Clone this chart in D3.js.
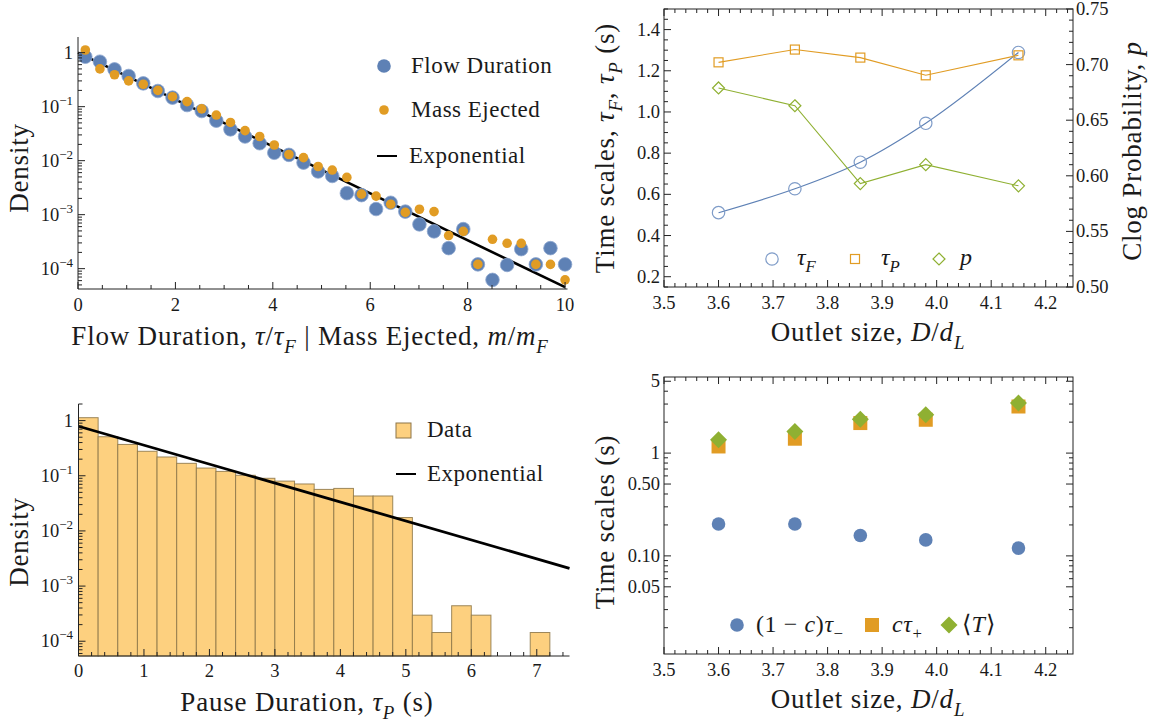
<!DOCTYPE html>
<html><head><meta charset="utf-8">
<script src="https://cdn.jsdelivr.net/npm/d3@7"></script>
<style>
body{margin:0;background:#fff}
svg{display:block}
text{font-family:"Liberation Serif",serif;fill:#1a1a1a}
</style>
</head><body>
<svg id="c" width="1165" height="726"></svg>
<script>
// ---------------- DATA ----------------
// Panel A: flow duration / mass ejected densities
const flowX = [0.15,0.45,0.75,1.04,1.34,1.64,1.94,2.24,2.54,2.84,3.13,3.43,3.73,4.03,4.33,4.63,4.93,5.22,5.52,5.82,6.12,6.42,6.72,7.01,7.31,7.61,7.91,8.21,8.51,8.81,9.10,9.40,9.70,10.0];
const flowDensity = [0.84,0.68,0.49,0.37,0.27,0.195,0.147,0.107,0.083,0.055,0.038,0.028,0.021,0.014,0.0128,0.0092,0.0063,0.0052,0.0025,0.0023,0.00127,0.00166,0.00114,0.00066,0.00049,0.00024,0.00054,0.00012,0.000062,0.000117,0.00023,0.00012,0.00024,0.00012];
const massDensity = [1.12,0.50,0.39,0.30,0.26,0.20,0.153,0.124,0.091,0.070,0.051,0.036,0.028,0.0195,0.013,0.0114,0.0078,0.0067,0.0049,0.0024,0.0022,0.00156,0.0011,0.00126,0.00114,0.00041,0.00049,0.00012,0.00035,0.000295,0.000295,0.00012,0.00012,0.000062];
const expFlowX = [0,10];
const expFlowY = [1,4.54e-5];
// Panel C: pause duration histogram
const pauseBinLo = [0,0.3,0.6,0.9,1.2,1.5,1.8,2.1,2.4,2.7,3.0,3.3,3.6,3.9,4.2,4.5,4.8,5.1,5.4,5.7,6.0,6.9];
const pauseBinWidth = 0.3;
const pauseDensity = [1.13,0.51,0.37,0.278,0.219,0.168,0.138,0.12,0.102,0.09,0.08,0.071,0.0566,0.059,0.043,0.043,0.0175,0.000297,0.000144,0.00044,0.000297,0.000144];
const expPauseX = [0,7.5];
const expPauseY = [0.79,0.0021];
// Panels B & D: versus outlet size
const outlet = [3.6,3.74,3.86,3.98,4.15];
const tauF = [0.511,0.627,0.756,0.945,1.289];
const tauP = [1.241,1.303,1.264,1.178,1.275];
const clogP = [0.679,0.663,0.593,0.610,0.591];
const tauMinus = [0.204,0.204,0.158,0.143,0.119];
const cTauPlus = [1.16,1.38,1.96,2.11,2.84];
const meanT = [1.35,1.62,2.14,2.36,3.07];
// tick labels
const flowXTicks = [0,2,4,6,8,10];
const decadeTicks = [1,0.1,0.01,0.001,0.0001];
const pauseXTicks = [0,1,2,3,4,5,6,7];
const outletTicks = [3.5,3.6,3.7,3.8,3.9,4.0,4.1,4.2];
const tauTicks = [0.2,0.4,0.6,0.8,1.0,1.2,1.4];
const clogTicks = [0.50,0.55,0.60,0.65,0.70,0.75];
const tsTicks = [5,1,0.5,0.1,0.05];
const tsTickLabels = ["5","1","0.50","0.10","0.05"];

// ---------------- STYLE ----------------
const BLUE="#5e81b5", ORANGE="#e19c24", GREEN="#8fb032";
const TICKFS=18.5, LEGFS=23, TITLEFS=27, AXC="#222";
const TITLELS=0.8, LEGLS=0.5;
const svg = d3.select("#c");

function rich(sel, parts, fs){
  let shift=0;
  parts.forEach(p=>{
    const ts=sel.append("tspan").text(p.t);
    let target=0,size=fs;
    if(p.sub){target=fs*0.28;size=fs*0.7;}
    if(p.sup){target=-fs*0.42;size=fs*0.7;}
    if(target!==shift){ts.attr("dy",target-shift);shift=target;}
    if(p.i) ts.attr("font-style","italic");
    if(size!==fs) ts.attr("font-size",size);
  });
  return sel;
}
function textAt(g,x,y,parts,fs,anchor,rot,ls){
  const t=g.append("text").attr("font-size",fs).attr("text-anchor",anchor||"start");
  if(ls) t.attr("letter-spacing",ls);
  if(rot){t.attr("transform",`translate(${x},${y}) rotate(${rot})`);}
  else t.attr("x",x).attr("y",y);
  return rich(t,parts,fs);
}
function line(g,x1,y1,x2,y2,w,c){
  g.append("line").attr("x1",x1).attr("y1",y1).attr("x2",x2).attr("y2",y2)
   .attr("stroke",c||AXC).attr("stroke-width",w||1);
}
function logMinor(lo,hi){
  const out=[];
  for(let k=-6;k<=2;k++)for(let m=1;m<=9;m++){const v=m*Math.pow(10,k);if(v>=lo&&v<=hi)out.push(v);}
  return out;
}
function decLabel(g,x,y,v){
  const t=g.append("text").attr("x",x).attr("y",y).attr("font-size",TICKFS).attr("text-anchor","end");
  if(v===1){t.text("1");return;}
  const k=Math.round(Math.log10(v));
  t.append("tspan").text("10");
  t.append("tspan").attr("dy",-8).attr("font-size",13).text("\u2212"+(-k));
}
function diamond(s){return `M0,${-s}L${s},0L0,${s}L${-s},0Z`;}

// ================= PANEL A =================
{
  const g=svg.append("g");
  const x=d3.scaleLinear([0,10.05],[78,567.5]);
  const y=d3.scaleLog([4.2e-5,1.95],[289,37]);
  g.append("path").datum(expFlowX.map((d,i)=>[d,expFlowY[i]]))
    .attr("d",d3.line().x(d=>x(d[0])).y(d=>y(d[1])))
    .attr("fill","none").attr("stroke","#000").attr("stroke-width",2.6);
  g.selectAll(".fb").data(flowX).join("circle").attr("cx",d=>x(d))
    .attr("cy",(d,i)=>y(flowDensity[i])).attr("r",6.8).attr("fill",BLUE)
    .attr("stroke","#8ea7cf").attr("stroke-width",0.8);
  g.selectAll(".mo").data(flowX).join("circle").attr("cx",d=>x(d))
    .attr("cy",(d,i)=>y(massDensity[i])).attr("r",4.8).attr("fill",ORANGE);
  line(g,78,37,78,289); line(g,78,289,567.5,289);
  logMinor(4.2e-5,1.95).forEach(v=>{
    const isMaj=decadeTicks.some(t=>Math.abs(t-v)<v*1e-6);
    line(g,78,y(v),78+(isMaj?7:4),y(v));
  });
  decadeTicks.forEach(v=>decLabel(g,73,y(v)+6,v));
  d3.range(0,10.01,0.5).forEach(v=>{
    const isMaj=flowXTicks.includes(v);
    line(g,x(v),289,x(v),289-(isMaj?7:4));
  });
  flowXTicks.forEach(v=>g.append("text").attr("x",x(v)).attr("y",311).attr("font-size",TICKFS)
    .attr("text-anchor","middle").text(v));
  textAt(g,310,345,[{t:"Flow Duration, "},{t:"τ",i:1},{t:"/"},{t:"τ",i:1},{t:"F",i:1,sub:1},
    {t:" | Mass Ejected, "},{t:"m",i:1},{t:"/"},{t:"m",i:1},{t:"F",i:1,sub:1}],TITLEFS,"middle",0,TITLELS);
  textAt(g,28,168,[{t:"Density"}],TITLEFS,"middle",-90,TITLELS);
  g.append("circle").attr("cx",384).attr("cy",66).attr("r",6.8).attr("fill",BLUE);
  textAt(g,411,73,[{t:"Flow Duration"}],LEGFS,"start",0,LEGLS);
  g.append("circle").attr("cx",384).attr("cy",110).attr("r",4.8).attr("fill",ORANGE);
  textAt(g,411,117,[{t:"Mass Ejected"}],LEGFS,"start",0,LEGLS);
  line(g,377,156,397,156,2,"#000");
  textAt(g,409,163,[{t:"Exponential"}],LEGFS,"start",0,LEGLS);
}

// ================= PANEL B =================
{
  const g=svg.append("g");
  const L=664,R=1073,T=9,B=287;
  const x=d3.scaleLinear([3.5,4.25],[L,R]);
  const y=d3.scaleLinear([0.15,1.5],[B,T]);
  const y2=d3.scaleLinear([0.5,0.75],[B,T]);
  d3.range(3.5,4.251,0.02).forEach(v=>{
    const isMaj=outletTicks.some(t=>Math.abs(t-v)<1e-6);
    const l=isMaj?7:4;
    line(g,x(v),B,x(v),B-l); line(g,x(v),T,x(v),T+l);
  });
  d3.range(0.15,1.501,0.05).forEach(v=>{
    const isMaj=tauTicks.some(t=>Math.abs(t-v)<1e-6);
    line(g,L,y(v),L+(isMaj?7:4),y(v));
  });
  d3.range(0.5,0.7501,0.01).forEach(v=>{
    const isMaj=clogTicks.some(t=>Math.abs(t-v)<1e-6);
    line(g,R,y2(v),R-(isMaj?7:4),y2(v));
  });
  g.append("rect").attr("x",L).attr("y",T).attr("width",R-L).attr("height",B-T)
    .attr("fill","none").attr("stroke",AXC).attr("stroke-width",1);
  outletTicks.forEach(v=>g.append("text").attr("x",x(v)).attr("y",B+22).attr("font-size",TICKFS)
    .attr("text-anchor","middle").text(v.toFixed(1)));
  tauTicks.forEach(v=>g.append("text").attr("x",L-4).attr("y",y(v)+6).attr("font-size",TICKFS)
    .attr("text-anchor","end").text(v.toFixed(1)));
  clogTicks.forEach(v=>g.append("text").attr("x",R+3).attr("y",y2(v)+6).attr("font-size",TICKFS)
    .attr("text-anchor","start").text(v.toFixed(2)));
  const pts=(ys,sc)=>outlet.map((d,i)=>[x(d),sc(ys[i])]);
  g.append("path").attr("d",d3.line().curve(d3.curveMonotoneX)(pts(tauF,y))).attr("fill","none").attr("stroke",BLUE).attr("stroke-width",1.1);
  g.append("path").attr("d",d3.line()(pts(tauP,y))).attr("fill","none").attr("stroke",ORANGE).attr("stroke-width",1.1);
  g.append("path").attr("d",d3.line()(pts(clogP,y2))).attr("fill","none").attr("stroke",GREEN).attr("stroke-width",1.1);
  pts(tauF,y).forEach(p=>g.append("circle").attr("cx",p[0]).attr("cy",p[1]).attr("r",6.2)
    .attr("fill","none").attr("stroke","#7f9cc8").attr("stroke-width",1.2));
  pts(tauP,y).forEach(p=>g.append("rect").attr("x",p[0]-4.5).attr("y",p[1]-4.5).attr("width",9).attr("height",9)
    .attr("fill","none").attr("stroke",ORANGE).attr("stroke-width",1.2));
  pts(clogP,y2).forEach(p=>g.append("path").attr("transform",`translate(${p[0]},${p[1]})`).attr("d",diamond(6))
    .attr("fill","none").attr("stroke",GREEN).attr("stroke-width",1.2));
  const ly=259;
  g.append("circle").attr("cx",772).attr("cy",ly).attr("r",6.2).attr("fill","none").attr("stroke","#7f9cc8").attr("stroke-width",1.2);
  textAt(g,797,ly+6,[{t:"τ",i:1},{t:"F",i:1,sub:1}],24);
  g.append("rect").attr("x",855-4.5).attr("y",ly-4.5).attr("width",9).attr("height",9).attr("fill","none").attr("stroke",ORANGE).attr("stroke-width",1.2);
  textAt(g,881,ly+6,[{t:"τ",i:1},{t:"P",i:1,sub:1}],24);
  g.append("path").attr("transform",`translate(939,${ly})`).attr("d",diamond(6)).attr("fill","none").attr("stroke",GREEN).attr("stroke-width",1.2);
  textAt(g,960,ly+6,[{t:"p",i:1}],24);
  textAt(g,868,341,[{t:"Outlet size, "},{t:"D",i:1},{t:"/"},{t:"d",i:1},{t:"L",i:1,sub:1}],TITLEFS,"middle",0,TITLELS);
  textAt(g,614,148,[{t:"Time scales, "},{t:"τ",i:1},{t:"F",i:1,sub:1},{t:", "},{t:"τ",i:1},{t:"P",i:1,sub:1},{t:" (s)"}],TITLEFS,"middle",-90,TITLELS);
  textAt(g,1141,151,[{t:"Clog Probability, "},{t:"p",i:1}],TITLEFS,"middle",-90,TITLELS);
}

// ================= PANEL C =================
{
  const g=svg.append("g");
  const x=d3.scaleLinear([0,7.5],[78.5,569.5]);
  const y=d3.scaleLog([5.4e-5,2.0],[656,404]);
  g.selectAll(".bar").data(pauseBinLo).join("rect")
    .attr("x",d=>x(d)).attr("width",d=>x(d+pauseBinWidth)-x(d))
    .attr("y",(d,i)=>y(pauseDensity[i])).attr("height",(d,i)=>656-y(pauseDensity[i]))
    .attr("fill","#fdd07f").attr("stroke","#8c7548").attr("stroke-width",1).attr("stroke-opacity",0.85);
  g.append("path").datum(expPauseX.map((d,i)=>[d,expPauseY[i]]))
    .attr("d",d3.line().x(d=>x(d[0])).y(d=>y(d[1])))
    .attr("fill","none").attr("stroke","#000").attr("stroke-width",2.8);
  line(g,78.5,404,78.5,656); line(g,78.5,656,569.5,656);
  logMinor(5.4e-5,2.0).forEach(v=>{
    const isMaj=decadeTicks.some(t=>Math.abs(t-v)<v*1e-6);
    line(g,78.5,y(v),78.5+(isMaj?7:4),y(v));
  });
  decadeTicks.forEach(v=>decLabel(g,73,y(v)+6,v));
  d3.range(0,7.501,0.2).forEach(v=>{
    const isMaj=pauseXTicks.some(t=>Math.abs(t-v)<1e-6);
    line(g,x(v),656,x(v),656-(isMaj?7:4));
  });
  pauseXTicks.forEach(v=>g.append("text").attr("x",x(v)).attr("y",677).attr("font-size",TICKFS)
    .attr("text-anchor","middle").text(v));
  textAt(g,307,711,[{t:"Pause Duration, "},{t:"τ",i:1},{t:"P",i:1,sub:1},{t:" (s)"}],TITLEFS,"middle",0,TITLELS);
  textAt(g,28,542,[{t:"Density"}],TITLEFS,"middle",-90,TITLELS);
  g.append("rect").attr("x",396).attr("y",423).attr("width",15).attr("height",15)
    .attr("fill","#fdd07f").attr("stroke","#8c7548").attr("stroke-width",1);
  textAt(g,427,437,[{t:"Data"}],LEGFS,"start",0,LEGLS);
  line(g,396,474,416,474,2,"#000");
  textAt(g,427,481,[{t:"Exponential"}],LEGFS,"start",0,LEGLS);
}

// ================= PANEL D =================
{
  const g=svg.append("g");
  const L=664,R=1073,T=377,B=654;
  const x=d3.scaleLinear([3.5,4.25],[L,R]);
  const y=d3.scaleLog([0.0111,5.5],[B,T]);
  d3.range(3.5,4.251,0.02).forEach(v=>{
    const isMaj=outletTicks.some(t=>Math.abs(t-v)<1e-6);
    const l=isMaj?7:4;
    line(g,x(v),B,x(v),B-l); line(g,x(v),T,x(v),T+l);
  });
  logMinor(0.0111,5.5).forEach(v=>{
    const isMaj=tsTicks.some(t=>Math.abs(t-v)<v*1e-6);
    const l=isMaj?7:4;
    line(g,L,y(v),L+l,y(v)); line(g,R,y(v),R-l,y(v));
  });
  g.append("rect").attr("x",L).attr("y",T).attr("width",R-L).attr("height",B-T)
    .attr("fill","none").attr("stroke",AXC).attr("stroke-width",1);
  outletTicks.forEach(v=>g.append("text").attr("x",x(v)).attr("y",B+22).attr("font-size",TICKFS)
    .attr("text-anchor","middle").text(v.toFixed(1)));
  tsTicks.forEach((v,i)=>g.append("text").attr("x",L-4).attr("y",y(v)+6).attr("font-size",TICKFS)
    .attr("text-anchor","end").text(tsTickLabels[i]));
  outlet.forEach((d,i)=>g.append("circle").attr("cx",x(d)).attr("cy",y(tauMinus[i])).attr("r",6.8).attr("fill",BLUE));
  outlet.forEach((d,i)=>g.append("rect").attr("x",x(d)-7).attr("y",y(cTauPlus[i])-7).attr("width",14).attr("height",14).attr("fill",ORANGE));
  outlet.forEach((d,i)=>g.append("path").attr("transform",`translate(${x(d)},${y(meanT[i])})`).attr("d",diamond(8.5)).attr("fill",GREEN));
  const ly=625;
  g.append("circle").attr("cx",737).attr("cy",ly).attr("r",6.8).attr("fill",BLUE);
  textAt(g,756,ly+7,[{t:"(1 \u2212 "},{t:"c",i:1},{t:")"},{t:"τ",i:1},{t:"\u2212",sub:1}],24,"start",0,0.6);
  g.append("rect").attr("x",872-7).attr("y",ly-7).attr("width",14).attr("height",14).attr("fill",ORANGE);
  textAt(g,892,ly+7,[{t:"c",i:1},{t:"τ",i:1},{t:"+",sub:1}],24,"start",0,0.6);
  g.append("path").attr("transform",`translate(949,${ly})`).attr("d",diamond(8.5)).attr("fill",GREEN);
  textAt(g,962,ly+7,[{t:"\u27E8"},{t:"T",i:1},{t:"\u27E9"}],24,"start",0,0.6);
  textAt(g,868,708,[{t:"Outlet size, "},{t:"D",i:1},{t:"/"},{t:"d",i:1},{t:"L",i:1,sub:1}],TITLEFS,"middle",0,TITLELS);
  textAt(g,614,522,[{t:"Time scales (s)"}],TITLEFS,"middle",-90,TITLELS);
}
</script>
</body></html>
